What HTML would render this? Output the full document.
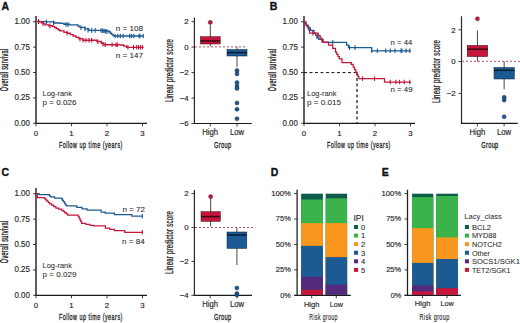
<!DOCTYPE html>
<html><head><meta charset="utf-8"><style>
html,body{margin:0;padding:0;background:#fff;width:520px;height:323px;overflow:hidden}
svg{display:block}
text{font-family:"Liberation Sans", sans-serif}
</style></head><body>
<svg width="520" height="323" viewBox="0 0 520 323" font-family='"Liberation Sans", sans-serif'>
<rect width="520" height="323" fill="#ffffff"/>
<text x="1.5" y="9.7" font-size="10.5" text-anchor="start" fill="#111" font-weight="bold" stroke="#111" stroke-width="0.35"  >A</text>
<text x="269.7" y="9.7" font-size="10.5" text-anchor="start" fill="#111" font-weight="bold" stroke="#111" stroke-width="0.35"  >B</text>
<text x="1.5" y="176.1" font-size="10.5" text-anchor="start" fill="#111" font-weight="bold" stroke="#111" stroke-width="0.35"  >C</text>
<text x="270.8" y="176.3" font-size="10.5" text-anchor="start" fill="#111" font-weight="bold" stroke="#111" stroke-width="0.35"  >D</text>
<text x="381.7" y="175.9" font-size="10.5" text-anchor="start" fill="#111" font-weight="bold" stroke="#111" stroke-width="0.35"  >E</text>
<line x1="36" y1="16" x2="36" y2="123.8" stroke="#444" stroke-width="1.7" />
<line x1="35.4" y1="123.3" x2="147" y2="123.3" stroke="#1a1a1a" stroke-width="1.2" />
<line x1="33" y1="21.7" x2="36" y2="21.7" stroke="#2a2a2a" stroke-width="0.9" />
<text x="29.9" y="24.099999999999998" font-size="8.6" text-anchor="end" fill="#2b2b2b" font-weight="normal" stroke="#2b2b2b" stroke-width="0.18" textLength="15.4" lengthAdjust="spacingAndGlyphs" >1.00</text>
<line x1="33" y1="47.099999999999994" x2="36" y2="47.099999999999994" stroke="#2a2a2a" stroke-width="0.9" />
<text x="29.9" y="49.49999999999999" font-size="8.6" text-anchor="end" fill="#2b2b2b" font-weight="normal" stroke="#2b2b2b" stroke-width="0.18" textLength="15.4" lengthAdjust="spacingAndGlyphs" >0.75</text>
<line x1="33" y1="72.5" x2="36" y2="72.5" stroke="#2a2a2a" stroke-width="0.9" />
<text x="29.9" y="74.9" font-size="8.6" text-anchor="end" fill="#2b2b2b" font-weight="normal" stroke="#2b2b2b" stroke-width="0.18" textLength="15.4" lengthAdjust="spacingAndGlyphs" >0.50</text>
<line x1="33" y1="97.89999999999999" x2="36" y2="97.89999999999999" stroke="#2a2a2a" stroke-width="0.9" />
<text x="29.9" y="100.3" font-size="8.6" text-anchor="end" fill="#2b2b2b" font-weight="normal" stroke="#2b2b2b" stroke-width="0.18" textLength="15.4" lengthAdjust="spacingAndGlyphs" >0.25</text>
<line x1="33" y1="123.3" x2="36" y2="123.3" stroke="#2a2a2a" stroke-width="0.9" />
<text x="29.9" y="125.7" font-size="8.6" text-anchor="end" fill="#2b2b2b" font-weight="normal" stroke="#2b2b2b" stroke-width="0.18" textLength="15.4" lengthAdjust="spacingAndGlyphs" >0.00</text>
<line x1="36.0" y1="123.3" x2="36.0" y2="126.3" stroke="#2a2a2a" stroke-width="0.9" />
<text x="36.0" y="135.5" font-size="7.8" text-anchor="middle" fill="#2b2b2b" font-weight="normal" stroke="#2b2b2b" stroke-width="0.18"  >0</text>
<line x1="71.5" y1="123.3" x2="71.5" y2="126.3" stroke="#2a2a2a" stroke-width="0.9" />
<text x="71.5" y="135.5" font-size="7.8" text-anchor="middle" fill="#2b2b2b" font-weight="normal" stroke="#2b2b2b" stroke-width="0.18"  >1</text>
<line x1="107.0" y1="123.3" x2="107.0" y2="126.3" stroke="#2a2a2a" stroke-width="0.9" />
<text x="107.0" y="135.5" font-size="7.8" text-anchor="middle" fill="#2b2b2b" font-weight="normal" stroke="#2b2b2b" stroke-width="0.18"  >2</text>
<line x1="142.5" y1="123.3" x2="142.5" y2="126.3" stroke="#2a2a2a" stroke-width="0.9" />
<text x="142.5" y="135.5" font-size="7.8" text-anchor="middle" fill="#2b2b2b" font-weight="normal" stroke="#2b2b2b" stroke-width="0.18"  >3</text>
<text x="90.9" y="147.7" font-size="9.8" text-anchor="middle" fill="#222" stroke="#222" stroke-width="0.33" letter-spacing="0.9" textLength="64" lengthAdjust="spacingAndGlyphs" >Follow up time (years)</text>
<text x="7.9" y="69.9" font-size="10.4" text-anchor="middle" fill="#222" stroke="#222" stroke-width="0.35" letter-spacing="0.6" textLength="42.5" lengthAdjust="spacingAndGlyphs" transform="rotate(-90 7.9 69.9)">Overall survival</text>
<path d="M36,21.4 L45.1,21.6 L46.6,21.9 L54.00,21.90 L54.00,23.00 L60.70,23.00 L60.70,23.40 L64.00,23.40 L64.00,24.20 L69.40,24.20 L69.40,24.80 L75.9,24.8 L77.90,24.80 L77.90,26.10 L79.90,26.10 L79.90,27.40 L84.90,27.40 L84.90,28.90 L88.80,28.90 L88.80,30.40 L100.4,30.4 L104.00,30.40 L104.00,31.00 L109.00,31.00 L109.00,32.00 L110.33,32.00 L110.33,33.20 L111.67,33.20 L111.67,34.40 L113.00,34.40 L113.00,35.60 L114.00,35.60 L114.00,36.00 L143.7,36" fill="none" stroke="#1b5a92" stroke-width="1.35" stroke-linejoin="miter"/>
<path d="M36,21.4 L38.6,21.6 L41.40,21.60 L41.40,22.70 L43.25,22.70 L43.25,23.80 L45.10,23.80 L45.10,24.90 L48.80,24.90 L48.80,25.70 L52.60,25.70 L52.60,26.40 L54.45,26.40 L54.45,27.50 L56.30,27.50 L56.30,28.60 L58.15,28.60 L58.15,29.70 L60.00,29.70 L60.00,30.80 L64.00,30.80 L64.00,32.30 L67.60,32.30 L67.60,33.20 L70.35,33.20 L70.35,34.60 L73.10,34.60 L73.10,36.00 L76.00,36.00 L76.00,37.40 L78.90,37.40 L78.90,38.80 L82.90,38.80 L82.90,40.20 L92.8,40.2 L96.90,40.20 L96.90,41.50 L101.30,41.50 L101.30,43.20 L103.90,43.20 L103.90,44.70 L118.6,44.7 L121,45 L123.75,45.00 L123.75,46.15 L126.50,46.15 L126.50,47.30 L143.7,47.3" fill="none" stroke="#c4163c" stroke-width="1.35" stroke-linejoin="miter"/>
<line x1="38.6" y1="19.157142857142855" x2="38.6" y2="23.757142857142856" stroke="#1b5a92" stroke-width="1.1" />
<line x1="46.5" y1="19.58" x2="46.5" y2="24.18" stroke="#1b5a92" stroke-width="1.1" />
<line x1="53.5" y1="20.625675675675677" x2="53.5" y2="25.225675675675678" stroke="#1b5a92" stroke-width="1.1" />
<line x1="66" y1="22.12222222222222" x2="66" y2="26.72222222222222" stroke="#1b5a92" stroke-width="1.1" />
<line x1="68" y1="22.344444444444445" x2="68" y2="26.944444444444446" stroke="#1b5a92" stroke-width="1.1" />
<line x1="81" y1="25.429999999999996" x2="81" y2="30.029999999999998" stroke="#1b5a92" stroke-width="1.1" />
<line x1="85" y1="26.638461538461534" x2="85" y2="31.238461538461536" stroke="#1b5a92" stroke-width="1.1" />
<line x1="88" y1="27.79230769230769" x2="88" y2="32.39230769230769" stroke="#1b5a92" stroke-width="1.1" />
<line x1="91.7" y1="28.099999999999998" x2="91.7" y2="32.699999999999996" stroke="#1b5a92" stroke-width="1.1" />
<line x1="95.2" y1="28.099999999999998" x2="95.2" y2="32.699999999999996" stroke="#1b5a92" stroke-width="1.1" />
<line x1="101" y1="28.199999999999996" x2="101" y2="32.8" stroke="#1b5a92" stroke-width="1.1" />
<line x1="102.5" y1="28.45" x2="102.5" y2="33.05" stroke="#1b5a92" stroke-width="1.1" />
<line x1="104" y1="28.7" x2="104" y2="33.3" stroke="#1b5a92" stroke-width="1.1" />
<line x1="105.5" y1="29.0" x2="105.5" y2="33.6" stroke="#1b5a92" stroke-width="1.1" />
<line x1="107" y1="29.3" x2="107" y2="33.9" stroke="#1b5a92" stroke-width="1.1" />
<line x1="115.1" y1="33.7" x2="115.1" y2="38.3" stroke="#1b5a92" stroke-width="1.1" />
<line x1="117.7" y1="33.7" x2="117.7" y2="38.3" stroke="#1b5a92" stroke-width="1.1" />
<line x1="120.3" y1="33.7" x2="120.3" y2="38.3" stroke="#1b5a92" stroke-width="1.1" />
<line x1="123.2" y1="33.7" x2="123.2" y2="38.3" stroke="#1b5a92" stroke-width="1.1" />
<line x1="129.7" y1="33.7" x2="129.7" y2="38.3" stroke="#1b5a92" stroke-width="1.1" />
<line x1="131.6" y1="33.7" x2="131.6" y2="38.3" stroke="#1b5a92" stroke-width="1.1" />
<line x1="133.9" y1="33.7" x2="133.9" y2="38.3" stroke="#1b5a92" stroke-width="1.1" />
<line x1="139" y1="33.7" x2="139" y2="38.3" stroke="#1b5a92" stroke-width="1.1" />
<line x1="140" y1="33.7" x2="140" y2="38.3" stroke="#1b5a92" stroke-width="1.1" />
<line x1="143.2" y1="33.7" x2="143.2" y2="38.3" stroke="#1b5a92" stroke-width="1.1" />
<line x1="38.6" y1="19.3" x2="38.6" y2="23.900000000000002" stroke="#c4163c" stroke-width="1.1" />
<line x1="43" y1="21.35135135135135" x2="43" y2="25.951351351351352" stroke="#c4163c" stroke-width="1.1" />
<line x1="50" y1="23.621052631578944" x2="50" y2="28.221052631578946" stroke="#c4163c" stroke-width="1.1" />
<line x1="67" y1="30.750000000000004" x2="67" y2="35.35" stroke="#c4163c" stroke-width="1.1" />
<line x1="80" y1="36.885" x2="80" y2="41.48499999999999" stroke="#c4163c" stroke-width="1.1" />
<line x1="83" y1="37.900000000000006" x2="83" y2="42.5" stroke="#c4163c" stroke-width="1.1" />
<line x1="86" y1="37.900000000000006" x2="86" y2="42.5" stroke="#c4163c" stroke-width="1.1" />
<line x1="89" y1="37.900000000000006" x2="89" y2="42.5" stroke="#c4163c" stroke-width="1.1" />
<line x1="91.7" y1="37.900000000000006" x2="91.7" y2="42.5" stroke="#c4163c" stroke-width="1.1" />
<line x1="97.8" y1="39.54772727272727" x2="97.8" y2="44.147727272727266" stroke="#c4163c" stroke-width="1.1" />
<line x1="103" y1="41.88076923076923" x2="103" y2="46.480769230769226" stroke="#c4163c" stroke-width="1.1" />
<line x1="105.2" y1="42.400000000000006" x2="105.2" y2="47.0" stroke="#c4163c" stroke-width="1.1" />
<line x1="112.1" y1="42.400000000000006" x2="112.1" y2="47.0" stroke="#c4163c" stroke-width="1.1" />
<line x1="116" y1="42.400000000000006" x2="116" y2="47.0" stroke="#c4163c" stroke-width="1.1" />
<line x1="117.3" y1="42.400000000000006" x2="117.3" y2="47.0" stroke="#c4163c" stroke-width="1.1" />
<line x1="127.9" y1="45.0" x2="127.9" y2="49.599999999999994" stroke="#c4163c" stroke-width="1.1" />
<line x1="133.5" y1="45.0" x2="133.5" y2="49.599999999999994" stroke="#c4163c" stroke-width="1.1" />
<line x1="136.7" y1="45.0" x2="136.7" y2="49.599999999999994" stroke="#c4163c" stroke-width="1.1" />
<line x1="138.6" y1="45.0" x2="138.6" y2="49.599999999999994" stroke="#c4163c" stroke-width="1.1" />
<line x1="140.4" y1="45.0" x2="140.4" y2="49.599999999999994" stroke="#c4163c" stroke-width="1.1" />
<line x1="142.3" y1="45.0" x2="142.3" y2="49.599999999999994" stroke="#c4163c" stroke-width="1.1" />
<text x="115.8" y="31" font-size="7.8" text-anchor="start" fill="#2b2b2b" font-weight="normal" stroke="#2b2b2b" stroke-width="0.08" textLength="27.2" lengthAdjust="spacingAndGlyphs" >n = 108</text>
<text x="115.8" y="58.4" font-size="7.8" text-anchor="start" fill="#2b2b2b" font-weight="normal" stroke="#2b2b2b" stroke-width="0.08" textLength="27.2" lengthAdjust="spacingAndGlyphs" >n = 147</text>
<text x="42.5" y="95.6" font-size="7.6" text-anchor="start" fill="#2b2b2b" font-weight="normal" stroke="#2b2b2b" stroke-width="0.06" textLength="29.4" lengthAdjust="spacingAndGlyphs" >Log-rank</text>
<text x="42.5" y="104.8" font-size="7.6" text-anchor="start" fill="#2b2b2b" font-weight="normal" stroke="#2b2b2b" stroke-width="0.06" textLength="34" lengthAdjust="spacingAndGlyphs" >p = 0.026</text>
<line x1="194.4" y1="17.7" x2="194.4" y2="124.0" stroke="#2a2a2a" stroke-width="1.2" />
<line x1="193.8" y1="123.5" x2="251.8" y2="123.5" stroke="#1a1a1a" stroke-width="1.2" />
<line x1="191.4" y1="21.7" x2="194.4" y2="21.7" stroke="#2a2a2a" stroke-width="0.9" />
<text x="188.6" y="24.4" font-size="7.8" text-anchor="end" fill="#2b2b2b" font-weight="normal" stroke="#2b2b2b" stroke-width="0.18"  >2</text>
<line x1="191.4" y1="47.1" x2="194.4" y2="47.1" stroke="#2a2a2a" stroke-width="0.9" />
<text x="188.6" y="49.800000000000004" font-size="7.8" text-anchor="end" fill="#2b2b2b" font-weight="normal" stroke="#2b2b2b" stroke-width="0.18"  >0</text>
<line x1="191.4" y1="72.6" x2="194.4" y2="72.6" stroke="#2a2a2a" stroke-width="0.9" />
<text x="188.6" y="75.3" font-size="7.8" text-anchor="end" fill="#2b2b2b" font-weight="normal" stroke="#2b2b2b" stroke-width="0.18"  >−2</text>
<line x1="191.4" y1="98.1" x2="194.4" y2="98.1" stroke="#2a2a2a" stroke-width="0.9" />
<text x="188.6" y="100.8" font-size="7.8" text-anchor="end" fill="#2b2b2b" font-weight="normal" stroke="#2b2b2b" stroke-width="0.18"  >−4</text>
<line x1="191.4" y1="123.5" x2="194.4" y2="123.5" stroke="#2a2a2a" stroke-width="0.9" />
<text x="188.6" y="126.2" font-size="7.8" text-anchor="end" fill="#2b2b2b" font-weight="normal" stroke="#2b2b2b" stroke-width="0.18"  >−6</text>
<line x1="210.2" y1="123.5" x2="210.2" y2="126.5" stroke="#2a2a2a" stroke-width="0.9" />
<text x="210.2" y="135.1" font-size="8.2" text-anchor="middle" fill="#2b2b2b" font-weight="normal" stroke="#2b2b2b" stroke-width="0.18" textLength="15.8" lengthAdjust="spacingAndGlyphs" >High</text>
<line x1="237" y1="123.5" x2="237" y2="126.5" stroke="#2a2a2a" stroke-width="0.9" />
<text x="237" y="135.1" font-size="8.2" text-anchor="middle" fill="#2b2b2b" font-weight="normal" stroke="#2b2b2b" stroke-width="0.18" textLength="14.2" lengthAdjust="spacingAndGlyphs" >Low</text>
<text x="222.8" y="147.7" font-size="9.8" text-anchor="middle" fill="#222" stroke="#222" stroke-width="0.33" letter-spacing="0.5" textLength="17.4" lengthAdjust="spacingAndGlyphs" >Group</text>
<text x="173.2" y="70.5" font-size="10" text-anchor="middle" fill="#222" stroke="#222" stroke-width="0.28" letter-spacing="0.4" textLength="63" lengthAdjust="spacingAndGlyphs" transform="rotate(-90 173.2 70.5)">Linear predictor score</text>
<line x1="195" y1="46.9" x2="246" y2="46.9" stroke="#b5455a" stroke-width="0.95" stroke-dasharray="2,2"/>
<line x1="210.3" y1="24.7" x2="210.3" y2="46.3" stroke="#333" stroke-width="0.9" />
<rect x="200.4" y="36.7" width="19.799999999999983" height="7.299999999999997" fill="#c4163c" stroke="#3a0812" stroke-width="0.5"/>
<line x1="200.4" y1="40.9" x2="220.2" y2="40.9" stroke="#3a0812" stroke-width="1.5" />
<circle cx="210.3" cy="22.4" r="2.05" fill="#c4163c" stroke="#3a0812" stroke-width="0.4"/>
<line x1="237.0" y1="47" x2="237.0" y2="67.2" stroke="#333" stroke-width="0.9" />
<rect x="227" y="49.5" width="20" height="6.5" fill="#1b5a92" stroke="#0a1c30" stroke-width="0.5"/>
<line x1="227" y1="52.6" x2="247" y2="52.6" stroke="#0a1c30" stroke-width="1.5" />
<circle cx="237.0" cy="70.6" r="2.05" fill="#1b5a92" stroke="#0a1c30" stroke-width="0.4"/>
<circle cx="237.0" cy="73.9" r="2.05" fill="#1b5a92" stroke="#0a1c30" stroke-width="0.4"/>
<circle cx="237.0" cy="82.6" r="2.05" fill="#1b5a92" stroke="#0a1c30" stroke-width="0.4"/>
<circle cx="237.0" cy="86" r="2.05" fill="#1b5a92" stroke="#0a1c30" stroke-width="0.4"/>
<circle cx="237.0" cy="88.4" r="2.05" fill="#1b5a92" stroke="#0a1c30" stroke-width="0.4"/>
<circle cx="237.0" cy="103" r="2.05" fill="#1b5a92" stroke="#0a1c30" stroke-width="0.4"/>
<circle cx="237.0" cy="109.3" r="2.05" fill="#1b5a92" stroke="#0a1c30" stroke-width="0.4"/>
<circle cx="237.0" cy="118.8" r="2.05" fill="#1b5a92" stroke="#0a1c30" stroke-width="0.4"/>
<line x1="304" y1="16" x2="304" y2="123.8" stroke="#444" stroke-width="1.7" />
<line x1="303.4" y1="123.3" x2="415" y2="123.3" stroke="#1a1a1a" stroke-width="1.2" />
<line x1="301" y1="21.7" x2="304" y2="21.7" stroke="#2a2a2a" stroke-width="0.9" />
<text x="297.9" y="24.099999999999998" font-size="8.6" text-anchor="end" fill="#2b2b2b" font-weight="normal" stroke="#2b2b2b" stroke-width="0.18" textLength="15.4" lengthAdjust="spacingAndGlyphs" >1.00</text>
<line x1="301" y1="47.099999999999994" x2="304" y2="47.099999999999994" stroke="#2a2a2a" stroke-width="0.9" />
<text x="297.9" y="49.49999999999999" font-size="8.6" text-anchor="end" fill="#2b2b2b" font-weight="normal" stroke="#2b2b2b" stroke-width="0.18" textLength="15.4" lengthAdjust="spacingAndGlyphs" >0.75</text>
<line x1="301" y1="72.5" x2="304" y2="72.5" stroke="#2a2a2a" stroke-width="0.9" />
<text x="297.9" y="74.9" font-size="8.6" text-anchor="end" fill="#2b2b2b" font-weight="normal" stroke="#2b2b2b" stroke-width="0.18" textLength="15.4" lengthAdjust="spacingAndGlyphs" >0.50</text>
<line x1="301" y1="97.89999999999999" x2="304" y2="97.89999999999999" stroke="#2a2a2a" stroke-width="0.9" />
<text x="297.9" y="100.3" font-size="8.6" text-anchor="end" fill="#2b2b2b" font-weight="normal" stroke="#2b2b2b" stroke-width="0.18" textLength="15.4" lengthAdjust="spacingAndGlyphs" >0.25</text>
<line x1="301" y1="123.3" x2="304" y2="123.3" stroke="#2a2a2a" stroke-width="0.9" />
<text x="297.9" y="125.7" font-size="8.6" text-anchor="end" fill="#2b2b2b" font-weight="normal" stroke="#2b2b2b" stroke-width="0.18" textLength="15.4" lengthAdjust="spacingAndGlyphs" >0.00</text>
<line x1="304.0" y1="123.3" x2="304.0" y2="126.3" stroke="#2a2a2a" stroke-width="0.9" />
<text x="304.0" y="135.5" font-size="7.8" text-anchor="middle" fill="#2b2b2b" font-weight="normal" stroke="#2b2b2b" stroke-width="0.18"  >0</text>
<line x1="339.5" y1="123.3" x2="339.5" y2="126.3" stroke="#2a2a2a" stroke-width="0.9" />
<text x="339.5" y="135.5" font-size="7.8" text-anchor="middle" fill="#2b2b2b" font-weight="normal" stroke="#2b2b2b" stroke-width="0.18"  >1</text>
<line x1="375.0" y1="123.3" x2="375.0" y2="126.3" stroke="#2a2a2a" stroke-width="0.9" />
<text x="375.0" y="135.5" font-size="7.8" text-anchor="middle" fill="#2b2b2b" font-weight="normal" stroke="#2b2b2b" stroke-width="0.18"  >2</text>
<line x1="410.5" y1="123.3" x2="410.5" y2="126.3" stroke="#2a2a2a" stroke-width="0.9" />
<text x="410.5" y="135.5" font-size="7.8" text-anchor="middle" fill="#2b2b2b" font-weight="normal" stroke="#2b2b2b" stroke-width="0.18"  >3</text>
<text x="358.9" y="147.7" font-size="9.8" text-anchor="middle" fill="#222" stroke="#222" stroke-width="0.33" letter-spacing="0.9" textLength="64" lengthAdjust="spacingAndGlyphs" >Follow up time (years)</text>
<text x="275.9" y="69.9" font-size="10.4" text-anchor="middle" fill="#222" stroke="#222" stroke-width="0.35" letter-spacing="0.6" textLength="42.5" lengthAdjust="spacingAndGlyphs" transform="rotate(-90 275.9 69.9)">Overall survival</text>
<line x1="304" y1="72.6" x2="357" y2="72.6" stroke="#111" stroke-width="1" stroke-dasharray="3,2.5"/>
<line x1="357" y1="72.6" x2="357" y2="123.3" stroke="#111" stroke-width="1.2" stroke-dasharray="3,2.5"/>
<path d="M304,21.8 L305.15,21.80 L305.15,23.60 L306.30,23.60 L306.30,25.40 L308.35,25.40 L308.35,27.85 L310.40,27.85 L310.40,30.30 L314.00,30.30 L314.00,33.00 L315.60,33.00 L315.60,35.13 L317.20,35.13 L317.20,37.27 L318.80,37.27 L318.80,39.40 L323.00,39.40 L323.00,42.40 L344.8,42.4 L346.65,42.40 L346.65,45.00 L348.50,45.00 L348.50,47.60 L369.9,47.6 L371.70,47.60 L371.70,50.80 L411,50.8" fill="none" stroke="#1b5a92" stroke-width="1.25" stroke-linejoin="miter"/>
<path d="M304,21.8 L306.00,21.80 L306.00,25.00 L307.20,25.00 L307.20,27.00 L308.40,27.00 L308.40,29.00 L309.70,29.00 L309.70,33.10 L316,33.1 L318.10,33.10 L318.10,35.55 L320.20,35.55 L320.20,38.00 L321.60,38.00 L321.60,40.00 L323.00,40.00 L323.00,42.00 L328.50,42.00 L328.50,45.00 L332.70,45.00 L332.70,48.40 L335.50,48.40 L335.50,52.00 L336.77,52.00 L336.77,54.27 L338.03,54.27 L338.03,56.53 L339.30,56.53 L339.30,58.80 L342.00,58.80 L342.00,62.50 L348.5,62.5 L351.30,62.50 L351.30,64.30 L353.20,64.30 L353.20,67.00 L354.47,67.00 L354.47,69.50 L355.73,69.50 L355.73,72.00 L357.00,72.00 L357.00,74.50 L357.90,74.50 L357.90,76.55 L358.80,76.55 L358.80,78.60 L383.8,78.6 L384.50,78.60 L384.50,82.00 L411,82" fill="none" stroke="#c4163c" stroke-width="1.25" stroke-linejoin="miter"/>
<line x1="309" y1="26.326829268292695" x2="309" y2="30.926829268292696" stroke="#1b5a92" stroke-width="1.1" />
<line x1="313" y1="29.950000000000006" x2="313" y2="34.550000000000004" stroke="#1b5a92" stroke-width="1.1" />
<line x1="317" y1="34.699999999999996" x2="317" y2="39.29999999999999" stroke="#1b5a92" stroke-width="1.1" />
<line x1="332.8" y1="40.1" x2="332.8" y2="44.699999999999996" stroke="#1b5a92" stroke-width="1.1" />
<line x1="349.5" y1="45.300000000000004" x2="349.5" y2="49.9" stroke="#1b5a92" stroke-width="1.1" />
<line x1="355" y1="45.300000000000004" x2="355" y2="49.9" stroke="#1b5a92" stroke-width="1.1" />
<line x1="371.7" y1="48.5" x2="371.7" y2="53.099999999999994" stroke="#1b5a92" stroke-width="1.1" />
<line x1="377.3" y1="48.5" x2="377.3" y2="53.099999999999994" stroke="#1b5a92" stroke-width="1.1" />
<line x1="385.7" y1="48.5" x2="385.7" y2="53.099999999999994" stroke="#1b5a92" stroke-width="1.1" />
<line x1="390.3" y1="48.5" x2="390.3" y2="53.099999999999994" stroke="#1b5a92" stroke-width="1.1" />
<line x1="395" y1="48.5" x2="395" y2="53.099999999999994" stroke="#1b5a92" stroke-width="1.1" />
<line x1="401" y1="48.5" x2="401" y2="53.099999999999994" stroke="#1b5a92" stroke-width="1.1" />
<line x1="401.8" y1="48.5" x2="401.8" y2="53.099999999999994" stroke="#1b5a92" stroke-width="1.1" />
<line x1="406" y1="48.5" x2="406" y2="53.099999999999994" stroke="#1b5a92" stroke-width="1.1" />
<line x1="409.8" y1="48.5" x2="409.8" y2="53.099999999999994" stroke="#1b5a92" stroke-width="1.1" />
<line x1="313" y1="30.8" x2="313" y2="35.4" stroke="#c4163c" stroke-width="1.1" />
<line x1="318" y1="33.13333333333334" x2="318" y2="37.733333333333334" stroke="#c4163c" stroke-width="1.1" />
<line x1="322" y1="38.27142857142858" x2="322" y2="42.871428571428574" stroke="#c4163c" stroke-width="1.1" />
<line x1="362.5" y1="76.3" x2="362.5" y2="80.89999999999999" stroke="#c4163c" stroke-width="1.1" />
<line x1="374.5" y1="76.3" x2="374.5" y2="80.89999999999999" stroke="#c4163c" stroke-width="1.1" />
<line x1="390.3" y1="79.7" x2="390.3" y2="84.3" stroke="#c4163c" stroke-width="1.1" />
<line x1="395.9" y1="79.7" x2="395.9" y2="84.3" stroke="#c4163c" stroke-width="1.1" />
<line x1="399.6" y1="79.7" x2="399.6" y2="84.3" stroke="#c4163c" stroke-width="1.1" />
<line x1="404.2" y1="79.7" x2="404.2" y2="84.3" stroke="#c4163c" stroke-width="1.1" />
<line x1="409.8" y1="79.7" x2="409.8" y2="84.3" stroke="#c4163c" stroke-width="1.1" />
<text x="390.6" y="45.2" font-size="7.8" text-anchor="start" fill="#2b2b2b" font-weight="normal" stroke="#2b2b2b" stroke-width="0.08" textLength="21.6" lengthAdjust="spacingAndGlyphs" >n = 44</text>
<text x="390.6" y="92.4" font-size="7.8" text-anchor="start" fill="#2b2b2b" font-weight="normal" stroke="#2b2b2b" stroke-width="0.08" textLength="22" lengthAdjust="spacingAndGlyphs" >n = 49</text>
<text x="307" y="95.6" font-size="7.6" text-anchor="start" fill="#2b2b2b" font-weight="normal" stroke="#2b2b2b" stroke-width="0.06" textLength="29.4" lengthAdjust="spacingAndGlyphs" >Log-rank</text>
<text x="307" y="104.8" font-size="7.6" text-anchor="start" fill="#2b2b2b" font-weight="normal" stroke="#2b2b2b" stroke-width="0.06" textLength="34" lengthAdjust="spacingAndGlyphs" >p = 0.015</text>
<line x1="461.5" y1="16.2" x2="461.5" y2="123.9" stroke="#2a2a2a" stroke-width="1.2" />
<line x1="460.9" y1="123.4" x2="517.7" y2="123.4" stroke="#1a1a1a" stroke-width="1.2" />
<line x1="458.5" y1="29.8" x2="461.5" y2="29.8" stroke="#2a2a2a" stroke-width="0.9" />
<text x="455.7" y="32.5" font-size="7.8" text-anchor="end" fill="#2b2b2b" font-weight="normal" stroke="#2b2b2b" stroke-width="0.18"  >2</text>
<line x1="458.5" y1="61.5" x2="461.5" y2="61.5" stroke="#2a2a2a" stroke-width="0.9" />
<text x="455.7" y="64.2" font-size="7.8" text-anchor="end" fill="#2b2b2b" font-weight="normal" stroke="#2b2b2b" stroke-width="0.18"  >0</text>
<line x1="458.5" y1="93.4" x2="461.5" y2="93.4" stroke="#2a2a2a" stroke-width="0.9" />
<text x="455.7" y="96.10000000000001" font-size="7.8" text-anchor="end" fill="#2b2b2b" font-weight="normal" stroke="#2b2b2b" stroke-width="0.18"  >−2</text>
<line x1="477.3" y1="123.4" x2="477.3" y2="126.4" stroke="#2a2a2a" stroke-width="0.9" />
<text x="477.3" y="135.0" font-size="8.2" text-anchor="middle" fill="#2b2b2b" font-weight="normal" stroke="#2b2b2b" stroke-width="0.18" textLength="15.8" lengthAdjust="spacingAndGlyphs" >High</text>
<line x1="504.1" y1="123.4" x2="504.1" y2="126.4" stroke="#2a2a2a" stroke-width="0.9" />
<text x="504.1" y="135.0" font-size="8.2" text-anchor="middle" fill="#2b2b2b" font-weight="normal" stroke="#2b2b2b" stroke-width="0.18" textLength="14.2" lengthAdjust="spacingAndGlyphs" >Low</text>
<text x="489.90000000000003" y="147.6" font-size="9.8" text-anchor="middle" fill="#222" stroke="#222" stroke-width="0.33" letter-spacing="0.5" textLength="17.4" lengthAdjust="spacingAndGlyphs" >Group</text>
<text x="440.3" y="71.5" font-size="10" text-anchor="middle" fill="#222" stroke="#222" stroke-width="0.28" letter-spacing="0.4" textLength="63" lengthAdjust="spacingAndGlyphs" transform="rotate(-90 440.3 71.5)">Linear predictor score</text>
<line x1="462" y1="61.3" x2="520" y2="61.3" stroke="#b5455a" stroke-width="0.95" stroke-dasharray="2,2"/>
<line x1="477.45" y1="30.6" x2="477.45" y2="61.5" stroke="#333" stroke-width="0.9" />
<rect x="467.2" y="45.4" width="20.5" height="11.200000000000003" fill="#c4163c" stroke="#3a0812" stroke-width="0.5"/>
<line x1="467.2" y1="49.2" x2="487.7" y2="49.2" stroke="#3a0812" stroke-width="1.5" />
<circle cx="477.45" cy="18.7" r="2.05" fill="#c4163c" stroke="#3a0812" stroke-width="0.4"/>
<line x1="504.15" y1="61.5" x2="504.15" y2="89.3" stroke="#333" stroke-width="0.9" />
<rect x="494" y="67.5" width="20.299999999999955" height="11.5" fill="#1b5a92" stroke="#0a1c30" stroke-width="0.5"/>
<line x1="494" y1="70.3" x2="514.3" y2="70.3" stroke="#0a1c30" stroke-width="1.5" />
<circle cx="504.15" cy="97.3" r="2.05" fill="#1b5a92" stroke="#0a1c30" stroke-width="0.4"/>
<circle cx="504.15" cy="100.1" r="2.05" fill="#1b5a92" stroke="#0a1c30" stroke-width="0.4"/>
<circle cx="504.15" cy="116.8" r="2.05" fill="#1b5a92" stroke="#0a1c30" stroke-width="0.4"/>
<line x1="36" y1="188" x2="36" y2="295.8" stroke="#444" stroke-width="1.7" />
<line x1="35.4" y1="295.3" x2="147" y2="295.3" stroke="#1a1a1a" stroke-width="1.2" />
<line x1="33" y1="193.7" x2="36" y2="193.7" stroke="#2a2a2a" stroke-width="0.9" />
<text x="29.9" y="196.1" font-size="8.6" text-anchor="end" fill="#2b2b2b" font-weight="normal" stroke="#2b2b2b" stroke-width="0.18" textLength="15.4" lengthAdjust="spacingAndGlyphs" >1.00</text>
<line x1="33" y1="219.1" x2="36" y2="219.1" stroke="#2a2a2a" stroke-width="0.9" />
<text x="29.9" y="221.5" font-size="8.6" text-anchor="end" fill="#2b2b2b" font-weight="normal" stroke="#2b2b2b" stroke-width="0.18" textLength="15.4" lengthAdjust="spacingAndGlyphs" >0.75</text>
<line x1="33" y1="244.5" x2="36" y2="244.5" stroke="#2a2a2a" stroke-width="0.9" />
<text x="29.9" y="246.9" font-size="8.6" text-anchor="end" fill="#2b2b2b" font-weight="normal" stroke="#2b2b2b" stroke-width="0.18" textLength="15.4" lengthAdjust="spacingAndGlyphs" >0.50</text>
<line x1="33" y1="269.9" x2="36" y2="269.9" stroke="#2a2a2a" stroke-width="0.9" />
<text x="29.9" y="272.29999999999995" font-size="8.6" text-anchor="end" fill="#2b2b2b" font-weight="normal" stroke="#2b2b2b" stroke-width="0.18" textLength="15.4" lengthAdjust="spacingAndGlyphs" >0.25</text>
<line x1="33" y1="295.3" x2="36" y2="295.3" stroke="#2a2a2a" stroke-width="0.9" />
<text x="29.9" y="297.7" font-size="8.6" text-anchor="end" fill="#2b2b2b" font-weight="normal" stroke="#2b2b2b" stroke-width="0.18" textLength="15.4" lengthAdjust="spacingAndGlyphs" >0.00</text>
<line x1="36.0" y1="295.3" x2="36.0" y2="298.3" stroke="#2a2a2a" stroke-width="0.9" />
<text x="36.0" y="307.5" font-size="7.8" text-anchor="middle" fill="#2b2b2b" font-weight="normal" stroke="#2b2b2b" stroke-width="0.18"  >0</text>
<line x1="71.5" y1="295.3" x2="71.5" y2="298.3" stroke="#2a2a2a" stroke-width="0.9" />
<text x="71.5" y="307.5" font-size="7.8" text-anchor="middle" fill="#2b2b2b" font-weight="normal" stroke="#2b2b2b" stroke-width="0.18"  >1</text>
<line x1="107.0" y1="295.3" x2="107.0" y2="298.3" stroke="#2a2a2a" stroke-width="0.9" />
<text x="107.0" y="307.5" font-size="7.8" text-anchor="middle" fill="#2b2b2b" font-weight="normal" stroke="#2b2b2b" stroke-width="0.18"  >2</text>
<line x1="142.5" y1="295.3" x2="142.5" y2="298.3" stroke="#2a2a2a" stroke-width="0.9" />
<text x="142.5" y="307.5" font-size="7.8" text-anchor="middle" fill="#2b2b2b" font-weight="normal" stroke="#2b2b2b" stroke-width="0.18"  >3</text>
<text x="90.9" y="319.7" font-size="9.8" text-anchor="middle" fill="#222" stroke="#222" stroke-width="0.33" letter-spacing="0.9" textLength="64" lengthAdjust="spacingAndGlyphs" >Follow up time (years)</text>
<text x="7.9" y="241.9" font-size="10.4" text-anchor="middle" fill="#222" stroke="#222" stroke-width="0.35" letter-spacing="0.6" textLength="42.5" lengthAdjust="spacingAndGlyphs" transform="rotate(-90 7.9 241.9)">Overall survival</text>
<path d="M36,193.6 L39.20,193.60 L39.20,194.50 L48.2,194.5 L49.25,194.50 L49.25,195.65 L50.30,195.65 L50.30,196.80 L54.50,196.80 L54.50,198.20 L61.50,198.20 L61.50,198.90 L62.46,198.90 L62.46,200.30 L63.42,200.30 L63.42,201.70 L64.38,201.70 L64.38,203.10 L65.34,203.10 L65.34,204.50 L66.30,204.50 L66.30,205.90 L76.80,205.90 L76.80,207.30 L82.00,207.30 L82.00,208.75 L87.20,208.75 L87.20,210.20 L99,210.2 L101.10,210.20 L101.10,212.00 L105.30,212.00 L105.30,213.10 L114.40,213.10 L114.40,214.50 L130.4,214.5 L131.80,214.50 L131.80,216.20 L142.9,216.2" fill="none" stroke="#1b5a92" stroke-width="1.25" stroke-linejoin="miter"/>
<path d="M36,193.6 L37.50,193.60 L37.50,197.50 L44.70,197.50 L44.70,198.90 L45.93,198.90 L45.93,200.12 L47.15,200.12 L47.15,201.35 L48.38,201.35 L48.38,202.58 L49.60,202.58 L49.60,203.80 L51.70,203.80 L51.70,205.20 L53.80,205.20 L53.80,206.60 L55.90,206.60 L55.90,208.00 L58.70,208.00 L58.70,209.00 L61.50,209.00 L61.50,210.00 L63.05,210.00 L63.05,211.25 L64.60,211.25 L64.60,212.50 L66.15,212.50 L66.15,213.75 L67.70,213.75 L67.70,215.00 L78.20,215.00 L78.20,216.30 L79.08,216.30 L79.08,218.05 L79.95,218.05 L79.95,219.80 L80.83,219.80 L80.83,221.55 L81.70,221.55 L81.70,223.30 L85.85,223.30 L85.85,224.35 L90.00,224.35 L90.00,225.40 L93.50,225.40 L93.50,225.90 L104,225.9 L105.30,225.90 L105.30,228.10 L109.85,228.10 L109.85,229.30 L114.40,229.30 L114.40,230.50 L124.80,230.50 L124.80,232.30 L142.9,232.3" fill="none" stroke="#c4163c" stroke-width="1.25" stroke-linejoin="miter"/>
<line x1="142.3" y1="213.89999999999998" x2="142.3" y2="218.5" stroke="#1b5a92" stroke-width="1.1" />
<line x1="142.3" y1="230.0" x2="142.3" y2="234.60000000000002" stroke="#c4163c" stroke-width="1.1" />
<text x="122.5" y="211.6" font-size="7.8" text-anchor="start" fill="#2b2b2b" font-weight="normal" stroke="#2b2b2b" stroke-width="0.08" textLength="22.4" lengthAdjust="spacingAndGlyphs" >n = 72</text>
<text x="122.1" y="243.8" font-size="7.8" text-anchor="start" fill="#2b2b2b" font-weight="normal" stroke="#2b2b2b" stroke-width="0.08" textLength="22.8" lengthAdjust="spacingAndGlyphs" >n = 84</text>
<text x="42.5" y="267.8" font-size="7.6" text-anchor="start" fill="#2b2b2b" font-weight="normal" stroke="#2b2b2b" stroke-width="0.06" textLength="29.4" lengthAdjust="spacingAndGlyphs" >Log-rank</text>
<text x="42.5" y="276.8" font-size="7.6" text-anchor="start" fill="#2b2b2b" font-weight="normal" stroke="#2b2b2b" stroke-width="0.06" textLength="34" lengthAdjust="spacingAndGlyphs" >p = 0.029</text>
<line x1="194.4" y1="189.9" x2="194.4" y2="295.8" stroke="#2a2a2a" stroke-width="1.2" />
<line x1="193.8" y1="295.3" x2="252" y2="295.3" stroke="#1a1a1a" stroke-width="1.2" />
<line x1="191.4" y1="193.6" x2="194.4" y2="193.6" stroke="#2a2a2a" stroke-width="0.9" />
<text x="188.6" y="196.29999999999998" font-size="7.8" text-anchor="end" fill="#2b2b2b" font-weight="normal" stroke="#2b2b2b" stroke-width="0.18"  >2</text>
<line x1="191.4" y1="227.5" x2="194.4" y2="227.5" stroke="#2a2a2a" stroke-width="0.9" />
<text x="188.6" y="230.2" font-size="7.8" text-anchor="end" fill="#2b2b2b" font-weight="normal" stroke="#2b2b2b" stroke-width="0.18"  >0</text>
<line x1="191.4" y1="261.4" x2="194.4" y2="261.4" stroke="#2a2a2a" stroke-width="0.9" />
<text x="188.6" y="264.09999999999997" font-size="7.8" text-anchor="end" fill="#2b2b2b" font-weight="normal" stroke="#2b2b2b" stroke-width="0.18"  >−2</text>
<line x1="191.4" y1="295.3" x2="194.4" y2="295.3" stroke="#2a2a2a" stroke-width="0.9" />
<text x="188.6" y="298.0" font-size="7.8" text-anchor="end" fill="#2b2b2b" font-weight="normal" stroke="#2b2b2b" stroke-width="0.18"  >−4</text>
<line x1="210.2" y1="295.3" x2="210.2" y2="298.3" stroke="#2a2a2a" stroke-width="0.9" />
<text x="210.2" y="306.90000000000003" font-size="8.2" text-anchor="middle" fill="#2b2b2b" font-weight="normal" stroke="#2b2b2b" stroke-width="0.18" textLength="15.8" lengthAdjust="spacingAndGlyphs" >High</text>
<line x1="237" y1="295.3" x2="237" y2="298.3" stroke="#2a2a2a" stroke-width="0.9" />
<text x="237" y="306.90000000000003" font-size="8.2" text-anchor="middle" fill="#2b2b2b" font-weight="normal" stroke="#2b2b2b" stroke-width="0.18" textLength="14.2" lengthAdjust="spacingAndGlyphs" >Low</text>
<text x="222.8" y="319.5" font-size="9.8" text-anchor="middle" fill="#222" stroke="#222" stroke-width="0.33" letter-spacing="0.5" textLength="17.4" lengthAdjust="spacingAndGlyphs" >Group</text>
<text x="173.2" y="242.5" font-size="10" text-anchor="middle" fill="#222" stroke="#222" stroke-width="0.28" letter-spacing="0.4" textLength="63" lengthAdjust="spacingAndGlyphs" transform="rotate(-90 173.2 242.5)">Linear predictor score</text>
<line x1="195" y1="227.5" x2="254" y2="227.5" stroke="#b5455a" stroke-width="0.95" stroke-dasharray="2,2"/>
<line x1="210.65" y1="196.6" x2="210.65" y2="226.5" stroke="#333" stroke-width="0.9" />
<rect x="201" y="211.7" width="19.30000000000001" height="9.600000000000023" fill="#c4163c" stroke="#3a0812" stroke-width="0.5"/>
<line x1="201" y1="216.6" x2="220.3" y2="216.6" stroke="#3a0812" stroke-width="1.5" />
<circle cx="210.65" cy="196.6" r="2.05" fill="#c4163c" stroke="#3a0812" stroke-width="0.4"/>
<line x1="236.9" y1="227.8" x2="236.9" y2="265" stroke="#333" stroke-width="0.9" />
<rect x="227" y="232" width="19.80000000000001" height="16.400000000000006" fill="#1b5a92" stroke="#0a1c30" stroke-width="0.5"/>
<line x1="227" y1="235" x2="246.8" y2="235" stroke="#0a1c30" stroke-width="1.5" />
<circle cx="236.9" cy="288" r="2.05" fill="#1b5a92" stroke="#0a1c30" stroke-width="0.4"/>
<circle cx="236.9" cy="293.5" r="2.05" fill="#1b5a92" stroke="#0a1c30" stroke-width="0.4"/>
<circle cx="236.9" cy="295" r="2.05" fill="#1b5a92" stroke="#0a1c30" stroke-width="0.4"/>
<line x1="297.1" y1="189.7" x2="297.1" y2="295.8" stroke="#222" stroke-width="1.3" />
<line x1="294.1" y1="295.3" x2="350.8" y2="295.3" stroke="#1a1a1a" stroke-width="1.2" />
<line x1="294.1" y1="193.6" x2="297.1" y2="193.6" stroke="#2a2a2a" stroke-width="0.9" />
<text x="290.8" y="195.79999999999998" font-size="8" text-anchor="end" fill="#2b2b2b" font-weight="normal" stroke="#2b2b2b" stroke-width="0.18" textLength="19.6" lengthAdjust="spacingAndGlyphs" >100%</text>
<line x1="294.1" y1="219.025" x2="297.1" y2="219.025" stroke="#2a2a2a" stroke-width="0.9" />
<text x="290.8" y="221.225" font-size="8" text-anchor="end" fill="#2b2b2b" font-weight="normal" stroke="#2b2b2b" stroke-width="0.18" textLength="15" lengthAdjust="spacingAndGlyphs" >75%</text>
<line x1="294.1" y1="244.45" x2="297.1" y2="244.45" stroke="#2a2a2a" stroke-width="0.9" />
<text x="290.8" y="246.64999999999998" font-size="8" text-anchor="end" fill="#2b2b2b" font-weight="normal" stroke="#2b2b2b" stroke-width="0.18" textLength="15" lengthAdjust="spacingAndGlyphs" >50%</text>
<line x1="294.1" y1="269.875" x2="297.1" y2="269.875" stroke="#2a2a2a" stroke-width="0.9" />
<text x="290.8" y="272.075" font-size="8" text-anchor="end" fill="#2b2b2b" font-weight="normal" stroke="#2b2b2b" stroke-width="0.18" textLength="15" lengthAdjust="spacingAndGlyphs" >25%</text>
<line x1="294.1" y1="295.3" x2="297.1" y2="295.3" stroke="#2a2a2a" stroke-width="0.9" />
<text x="290.8" y="297.5" font-size="8" text-anchor="end" fill="#2b2b2b" font-weight="normal" stroke="#2b2b2b" stroke-width="0.18" textLength="10.5" lengthAdjust="spacingAndGlyphs" >0%</text>
<line x1="311.7" y1="295.3" x2="311.7" y2="298.3" stroke="#2a2a2a" stroke-width="0.9" />
<text x="311.7" y="306.8" font-size="7.8" text-anchor="middle" fill="#2b2b2b" font-weight="normal" stroke="#2b2b2b" stroke-width="0.18" textLength="15.6" lengthAdjust="spacingAndGlyphs" >High</text>
<line x1="336.3" y1="295.3" x2="336.3" y2="298.3" stroke="#2a2a2a" stroke-width="0.9" />
<text x="336.3" y="306.8" font-size="7.8" text-anchor="middle" fill="#2b2b2b" font-weight="normal" stroke="#2b2b2b" stroke-width="0.18" textLength="13.2" lengthAdjust="spacingAndGlyphs" >Low</text>
<text x="323.6" y="319.8" font-size="8.6" text-anchor="middle" fill="#222" stroke="#222" stroke-width="0.12" letter-spacing="0.6" textLength="28.5" lengthAdjust="spacingAndGlyphs" >Risk group</text>
<rect x="301.1" y="193.7" width="21.799999999999955" height="101.10000000000002" fill="#0e5c4c"/>
<rect x="301.1" y="199.5" width="21.799999999999955" height="95.30000000000001" fill="#3ab44a"/>
<rect x="301.1" y="223.1" width="21.799999999999955" height="71.70000000000002" fill="#f8961e"/>
<rect x="301.1" y="245.9" width="21.799999999999955" height="48.900000000000006" fill="#1c5a94"/>
<rect x="301.1" y="276.8" width="21.799999999999955" height="18.0" fill="#532a7c"/>
<rect x="301.1" y="289.8" width="21.799999999999955" height="5.0" fill="#c8163a"/>
<rect x="325.7" y="193.7" width="21.400000000000034" height="101.10000000000002" fill="#0e5c4c"/>
<rect x="325.7" y="198.4" width="21.400000000000034" height="96.4" fill="#3ab44a"/>
<rect x="325.7" y="223.1" width="21.400000000000034" height="71.70000000000002" fill="#f8961e"/>
<rect x="325.7" y="257.1" width="21.400000000000034" height="37.69999999999999" fill="#1c5a94"/>
<rect x="325.7" y="284.6" width="21.400000000000034" height="10.199999999999989" fill="#532a7c"/>
<text x="353.5" y="221.4" font-size="9.4" text-anchor="start" fill="#222" stroke="#222" stroke-width="0.1" letter-spacing="0" textLength="10.3" lengthAdjust="spacingAndGlyphs" >IPI</text>
<rect x="354.0" y="225.0" width="4.1" height="4.0" fill="#0e5c4c"/>
<text x="361" y="229.8" font-size="7.6" text-anchor="start" fill="#2b2b2b" font-weight="normal" stroke="#2b2b2b" stroke-width="0.1"  >0</text>
<rect x="354.0" y="233.58" width="4.1" height="4.0" fill="#3ab44a"/>
<text x="361" y="238.38000000000002" font-size="7.6" text-anchor="start" fill="#2b2b2b" font-weight="normal" stroke="#2b2b2b" stroke-width="0.1"  >1</text>
<rect x="354.0" y="242.16" width="4.1" height="4.0" fill="#f8961e"/>
<text x="361" y="246.96" font-size="7.6" text-anchor="start" fill="#2b2b2b" font-weight="normal" stroke="#2b2b2b" stroke-width="0.1"  >2</text>
<rect x="354.0" y="250.74" width="4.1" height="4.0" fill="#1c5a94"/>
<text x="361" y="255.54000000000002" font-size="7.6" text-anchor="start" fill="#2b2b2b" font-weight="normal" stroke="#2b2b2b" stroke-width="0.1"  >3</text>
<rect x="354.0" y="259.32000000000005" width="4.1" height="4.0" fill="#532a7c"/>
<text x="361" y="264.12" font-size="7.6" text-anchor="start" fill="#2b2b2b" font-weight="normal" stroke="#2b2b2b" stroke-width="0.1"  >4</text>
<rect x="354.0" y="267.90000000000003" width="4.1" height="4.0" fill="#c8163a"/>
<text x="361" y="272.7" font-size="7.6" text-anchor="start" fill="#2b2b2b" font-weight="normal" stroke="#2b2b2b" stroke-width="0.1"  >5</text>
<line x1="407.5" y1="189.7" x2="407.5" y2="295.8" stroke="#222" stroke-width="1.3" />
<line x1="404.5" y1="295.3" x2="460.9" y2="295.3" stroke="#1a1a1a" stroke-width="1.2" />
<line x1="404.5" y1="193.6" x2="407.5" y2="193.6" stroke="#2a2a2a" stroke-width="0.9" />
<text x="401.2" y="195.79999999999998" font-size="8" text-anchor="end" fill="#2b2b2b" font-weight="normal" stroke="#2b2b2b" stroke-width="0.18" textLength="19.6" lengthAdjust="spacingAndGlyphs" >100%</text>
<line x1="404.5" y1="219.025" x2="407.5" y2="219.025" stroke="#2a2a2a" stroke-width="0.9" />
<text x="401.2" y="221.225" font-size="8" text-anchor="end" fill="#2b2b2b" font-weight="normal" stroke="#2b2b2b" stroke-width="0.18" textLength="15" lengthAdjust="spacingAndGlyphs" >75%</text>
<line x1="404.5" y1="244.45" x2="407.5" y2="244.45" stroke="#2a2a2a" stroke-width="0.9" />
<text x="401.2" y="246.64999999999998" font-size="8" text-anchor="end" fill="#2b2b2b" font-weight="normal" stroke="#2b2b2b" stroke-width="0.18" textLength="15" lengthAdjust="spacingAndGlyphs" >50%</text>
<line x1="404.5" y1="269.875" x2="407.5" y2="269.875" stroke="#2a2a2a" stroke-width="0.9" />
<text x="401.2" y="272.075" font-size="8" text-anchor="end" fill="#2b2b2b" font-weight="normal" stroke="#2b2b2b" stroke-width="0.18" textLength="15" lengthAdjust="spacingAndGlyphs" >25%</text>
<line x1="404.5" y1="295.3" x2="407.5" y2="295.3" stroke="#2a2a2a" stroke-width="0.9" />
<text x="401.2" y="297.5" font-size="8" text-anchor="end" fill="#2b2b2b" font-weight="normal" stroke="#2b2b2b" stroke-width="0.18" textLength="10.5" lengthAdjust="spacingAndGlyphs" >0%</text>
<line x1="422.6" y1="295.3" x2="422.6" y2="298.3" stroke="#2a2a2a" stroke-width="0.9" />
<text x="422.6" y="306.3" font-size="7.8" text-anchor="middle" fill="#2b2b2b" font-weight="normal" stroke="#2b2b2b" stroke-width="0.18" textLength="15.6" lengthAdjust="spacingAndGlyphs" >High</text>
<line x1="447" y1="295.3" x2="447" y2="298.3" stroke="#2a2a2a" stroke-width="0.9" />
<text x="447" y="306.3" font-size="7.8" text-anchor="middle" fill="#2b2b2b" font-weight="normal" stroke="#2b2b2b" stroke-width="0.18" textLength="13.2" lengthAdjust="spacingAndGlyphs" >Low</text>
<text x="434.6" y="319.8" font-size="8.6" text-anchor="middle" fill="#222" stroke="#222" stroke-width="0.12" letter-spacing="0.6" textLength="30.4" lengthAdjust="spacingAndGlyphs" >Risk group</text>
<rect x="412.1" y="193.7" width="21.19999999999999" height="101.10000000000002" fill="#0e5c4c"/>
<rect x="412.1" y="197.1" width="21.19999999999999" height="97.70000000000002" fill="#3ab44a"/>
<rect x="412.1" y="228.2" width="21.19999999999999" height="66.60000000000002" fill="#f8961e"/>
<rect x="412.1" y="262.9" width="21.19999999999999" height="31.900000000000034" fill="#1c5a94"/>
<rect x="412.1" y="285.6" width="21.19999999999999" height="9.199999999999989" fill="#532a7c"/>
<rect x="412.1" y="291.4" width="21.19999999999999" height="3.400000000000034" fill="#c8163a"/>
<rect x="436.2" y="193.7" width="21.80000000000001" height="101.10000000000002" fill="#0e5c4c"/>
<rect x="436.2" y="196" width="21.80000000000001" height="98.80000000000001" fill="#3ab44a"/>
<rect x="436.2" y="237.4" width="21.80000000000001" height="57.400000000000006" fill="#f8961e"/>
<rect x="436.2" y="259" width="21.80000000000001" height="35.80000000000001" fill="#1c5a94"/>
<rect x="436.2" y="288.2" width="21.80000000000001" height="6.600000000000023" fill="#c8163a"/>
<text x="464.2" y="218.6" font-size="7.6" text-anchor="start" fill="#2b2b2b" font-weight="normal" stroke="#2b2b2b" stroke-width="0.03" textLength="37.6" lengthAdjust="spacingAndGlyphs" >Lacy_class</text>
<rect x="464.9" y="225.0" width="4.1" height="4.0" fill="#0e5c4c"/>
<text x="471.9" y="229.8" font-size="7.6" text-anchor="start" fill="#2b2b2b" font-weight="normal" stroke="#2b2b2b" stroke-width="0.06" textLength="19" lengthAdjust="spacingAndGlyphs" >BCL2</text>
<rect x="464.9" y="233.58" width="4.1" height="4.0" fill="#3ab44a"/>
<text x="471.9" y="238.38000000000002" font-size="7.6" text-anchor="start" fill="#2b2b2b" font-weight="normal" stroke="#2b2b2b" stroke-width="0.06" textLength="24.5" lengthAdjust="spacingAndGlyphs" >MYD88</text>
<rect x="464.9" y="242.16" width="4.1" height="4.0" fill="#f8961e"/>
<text x="471.9" y="246.96" font-size="7.6" text-anchor="start" fill="#2b2b2b" font-weight="normal" stroke="#2b2b2b" stroke-width="0.06" textLength="30" lengthAdjust="spacingAndGlyphs" >NOTCH2</text>
<rect x="464.9" y="250.74" width="4.1" height="4.0" fill="#1c5a94"/>
<text x="471.9" y="255.54000000000002" font-size="7.6" text-anchor="start" fill="#2b2b2b" font-weight="normal" stroke="#2b2b2b" stroke-width="0.06" textLength="18" lengthAdjust="spacingAndGlyphs" >Other</text>
<rect x="464.9" y="259.32000000000005" width="4.1" height="4.0" fill="#532a7c"/>
<text x="471.9" y="264.12" font-size="7.6" text-anchor="start" fill="#2b2b2b" font-weight="normal" stroke="#2b2b2b" stroke-width="0.06" textLength="48" lengthAdjust="spacingAndGlyphs" >SOCS1/SGK1</text>
<rect x="464.9" y="267.90000000000003" width="4.1" height="4.0" fill="#c8163a"/>
<text x="471.9" y="272.7" font-size="7.6" text-anchor="start" fill="#2b2b2b" font-weight="normal" stroke="#2b2b2b" stroke-width="0.06" textLength="38.6" lengthAdjust="spacingAndGlyphs" >TET2/SGK1</text>
</svg>
</body></html>
